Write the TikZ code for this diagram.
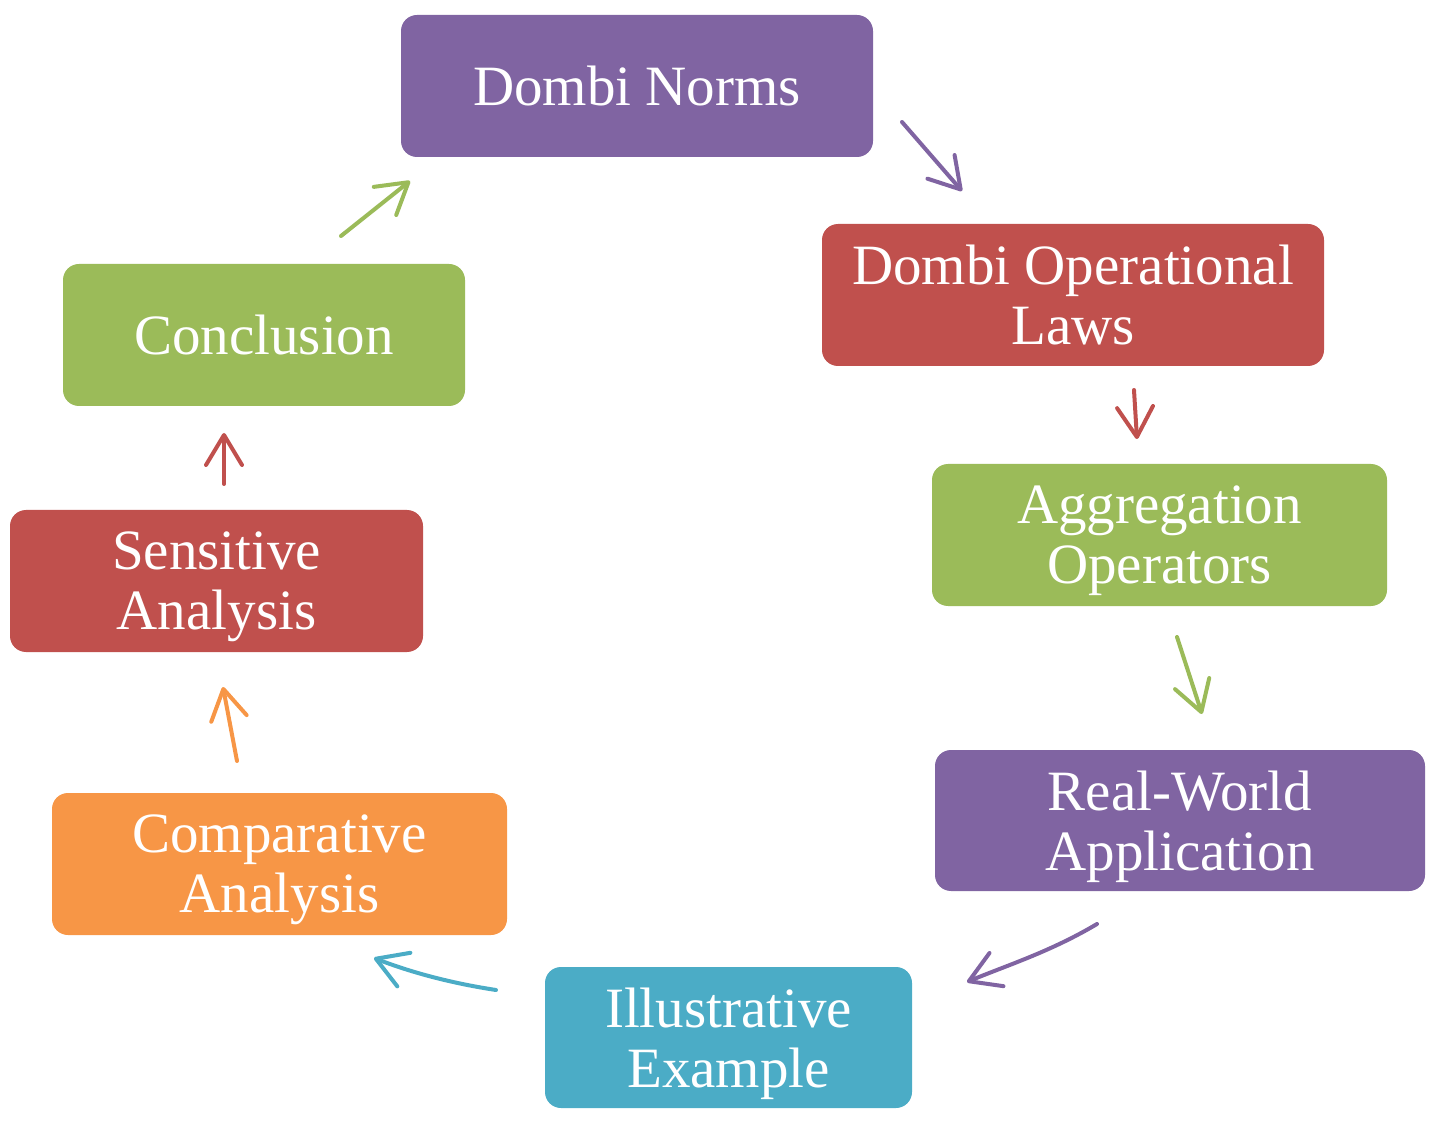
\documentclass[tikz,border=0pt]{standalone}
\usepackage{fontspec}
\setmainfont{Liberation Serif}
\usetikzlibrary{arrows.meta}
\definecolor{cpurple}{HTML}{8064A2}
\definecolor{cred}{HTML}{C0504D}
\definecolor{cgreen}{HTML}{9BBB59}
\definecolor{cteal}{HTML}{4BACC6}
\definecolor{corange}{HTML}{F79646}
\tikzset{
  stagebox/.style={rounded corners=8pt, draw=none, text=white, align=center,
    minimum height=71pt, inner sep=2pt, text depth=0pt,
    font=\fontsize{28.5}{30}\selectfont},
  flow/.style={line width=2pt, line cap=round, line join=round,
    -{Straight Barb[length=15pt,width=18pt,line cap=round,line join=round]}},
}
\begin{document}
\begin{tikzpicture}[x=0.5pt,y=-0.5pt]
\useasboundingbox (0,0) rectangle (1437,1123);

% stages of the cycle
\node[stagebox, fill=cpurple, minimum width=236pt] (norms) at (637,86) {Dombi Norms};
\node[stagebox, fill=cred, minimum width=251pt] (laws) at (1073,295) {Dombi Operational\\Laws};
\node[stagebox, fill=cgreen, minimum width=227.5pt] (aggr) at (1159.5,535) {Aggregation\\Operators};
\node[stagebox, fill=cpurple, minimum width=245pt, minimum height=70.5pt] (app) at (1180,820.5) {Real-World\\Application};
\node[stagebox, fill=cteal, minimum width=183.5pt, minimum height=70.5pt] (example) at (728.5,1037.5) {Illustrative\\Example};
\node[stagebox, fill=corange, minimum width=227.5pt] (compar) at (279.5,864) {Comparative\\Analysis};
\node[stagebox, fill=cred, minimum width=206.5pt] (sens) at (216.5,581) {Sensitive\\Analysis};
\node[stagebox, fill=cgreen, minimum width=201pt] (concl) at (264,335) {Conclusion};

% arrow end points
\coordinate (a1s) at (902,122);  \coordinate (a1e) at (962,191);
\coordinate (a2s) at (1134,390); \coordinate (a2e) at (1137,439);
\coordinate (a3s) at (1177,637); \coordinate (a3e) at (1202,714);
\coordinate (a4s) at (1097,924); \coordinate (a4e) at (967,982);
\coordinate (a5s) at (496,990);  \coordinate (a5e) at (374,958);
\coordinate (a6s) at (237,761);  \coordinate (a6e) at (223,687);
\coordinate (a7s) at (224,484);  \coordinate (a7e) at (224,433);
\coordinate (a8s) at (341,236);  \coordinate (a8e) at (410,181);

% connectors
\draw[flow, cpurple] (a1s) -- (a1e);
\draw[flow, cred] (a2s) -- (a2e);
\draw[flow, cgreen] (a3s) -- (a3e);
\draw[flow, cpurple] (a4s) .. controls (1050,952) and (1005,966) .. (a4e);
\draw[flow, cteal] (a5s) .. controls (450,983) and (410,972) .. (a5e);
\draw[flow, corange] (a6s) -- (a6e);
\draw[flow, cred] (a7s) -- (a7e);
\draw[flow, cgreen] (a8s) -- (a8e);
\end{tikzpicture}
\end{document}
